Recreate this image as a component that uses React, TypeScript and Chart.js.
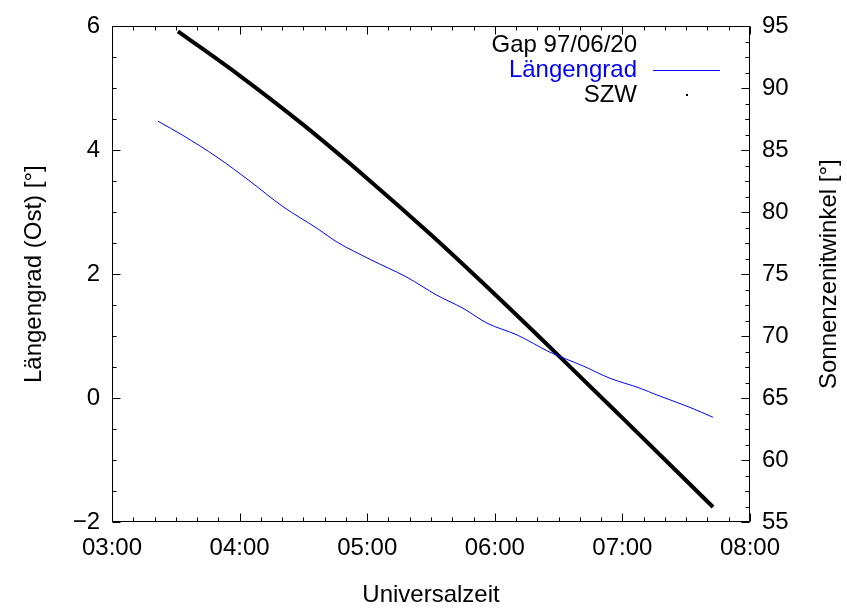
import { useEffect, useRef } from "react";
import { Chart, registerables } from "chart.js";

Chart.register(...registerables);

// Titles and legend texts
const legendTitle = "Gap 97/06/20";
const xTitle = "Universalzeit";
const yTitle = "Längengrad (Ost) [°]";
const y2Title = "Sonnenzenitwinkel [°]";
const lonLabel = "Längengrad";
const szwLabel = "SZW";

// Ground track longitude (time in hours UT, degrees east)
const lonTime = [3.36, 3.556, 3.823, 4.082, 4.34, 4.607, 4.763, 5.022, 5.312, 5.547, 5.751, 5.939, 6.174, 6.433, 6.691, 6.903, 7.138, 7.271, 7.53, 7.71];
const lonDeg = [4.47, 4.24, 3.89, 3.5, 3.09, 2.74, 2.52, 2.24, 1.95, 1.66, 1.45, 1.21, 1.02, 0.74, 0.52, 0.32, 0.16, 0.05, -0.15, -0.31];

// Solar zenith angle (time in hours UT, degrees)
const szwTime = [3.517, 4.0, 4.5, 5.0, 5.5, 6.0, 6.5, 7.0, 7.71];
const szwDeg = [94.6, 91.03, 87.05, 82.73, 78.18, 73.38, 68.43, 63.4, 56.21];

// Axis ranges and tick steps
const xRange = [3, 8];
const yRange = [-2, 6];
const y2Range = [55, 95];
const xStep = 1;
const xMinor = 1 / 6;
const yStep = 2;
const yMinor = 0.5;
const y2Step = 5;
const y2Minor = 1.25;

const FAMILY = "'Liberation Sans', Arial, Helvetica, sans-serif";
const FONT_SIZE = 24;
const BLUE = "#0000ff";

const fmtTime = (v: number) => String(Math.round(v)).padStart(2, "0") + ":00";
const fmtNum = (v: number) => (v < 0 ? "\u2212" + Math.abs(v) : String(v));

// Frame plus inward tick marks on all four sides (gnuplot style)
const framePlugin = {
  id: "frameTicks",
  afterDatasetsDraw(chart: any) {
    const { ctx, chartArea: a, scales } = chart;
    const L = Math.round(a.left) + 0.5;
    const R = Math.round(a.right) - 0.5;
    const T = Math.round(a.top) + 0.5;
    const B = Math.round(a.bottom) - 0.5;
    const major = 8;
    const minor = 4;
    ctx.save();
    ctx.strokeStyle = "#000";
    ctx.lineWidth = 1;
    ctx.beginPath();
    ctx.rect(L, T, R - L, B - T);

    const isMult = (v: number, step: number) => Math.abs(v / step - Math.round(v / step)) < 1e-6;

    // x ticks, bottom and mirrored at top
    const nx = Math.round((xRange[1] - xRange[0]) / xMinor);
    for (let i = 0; i <= nx; i++) {
      const v = xRange[0] + i * xMinor;
      const px = Math.round(scales.x.getPixelForValue(v)) + 0.5;
      const len = isMult(v - xRange[0], xStep) ? major : minor;
      ctx.moveTo(px, B);
      ctx.lineTo(px, B - len);
      ctx.moveTo(px, T);
      ctx.lineTo(px, T + len);
    }
    // left y ticks, mirrored on right
    const ny = Math.round((yRange[1] - yRange[0]) / yMinor);
    for (let i = 0; i <= ny; i++) {
      const v = yRange[0] + i * yMinor;
      const py = Math.round(scales.y.getPixelForValue(v)) + 0.5;
      const len = isMult(v, yStep) ? major : minor;
      ctx.moveTo(L, py);
      ctx.lineTo(L + len, py);
      ctx.moveTo(R, py);
      ctx.lineTo(R - len, py);
    }
    // right y2 ticks
    const ny2 = Math.round((y2Range[1] - y2Range[0]) / y2Minor);
    for (let i = 0; i <= ny2; i++) {
      const v = y2Range[0] + i * y2Minor;
      const py = Math.round(scales.y2.getPixelForValue(v)) + 0.5;
      const len = isMult(v, y2Step) ? major : minor;
      ctx.moveTo(R, py);
      ctx.lineTo(R - len, py);
    }
    ctx.stroke();

    // right axis title, reading bottom to top
    ctx.font = `${FONT_SIZE}px ${FAMILY}`;
    ctx.fillStyle = "#000";
    ctx.textAlign = "center";
    ctx.textBaseline = "middle";
    ctx.translate(chart.width - 18, (a.top + a.bottom) / 2);
    ctx.rotate(-Math.PI / 2);
    ctx.fillText(y2Title, 0, 0);
    ctx.restore();
  },
};

// Key in the upper right: text right-aligned, sample to its right
const keyPlugin = {
  id: "gnuKey",
  afterDatasetsDraw(chart: any) {
    const { ctx, chartArea: a } = chart;
    const textRight = a.right - 113;
    const sampleL = a.right - 97;
    const sampleR = a.right - 30;
    const row0 = a.top + 19;
    const rowH = 25;
    ctx.save();
    ctx.font = `${FONT_SIZE}px ${FAMILY}`;
    ctx.textAlign = "right";
    ctx.textBaseline = "middle";

    ctx.fillStyle = "#000";
    ctx.fillText(legendTitle, textRight, row0);

    const ds = chart.data.datasets;
    ds.forEach((d: any, i: number) => {
      const yy = row0 + rowH * (i + 1);
      ctx.fillStyle = d.keyTextColor;
      ctx.fillText(d.label, textRight, yy);
      if (d.keyStyle === "line") {
        ctx.strokeStyle = d.borderColor;
        ctx.lineWidth = 1;
        ctx.beginPath();
        ctx.moveTo(sampleL, Math.round(yy) + 0.5);
        ctx.lineTo(sampleR, Math.round(yy) + 0.5);
        ctx.stroke();
      } else {
        ctx.fillStyle = d.borderColor;
        const cx = Math.round((sampleL + sampleR) / 2);
        ctx.fillRect(cx - 1, Math.round(yy) - 1, 2, 2);
      }
    });
    ctx.restore();
  },
};

export default function App() {
  const canvasRef = useRef<HTMLCanvasElement | null>(null);

  useEffect(() => {
    if (!canvasRef.current) return;
    const font = { family: FAMILY, size: FONT_SIZE };
    const chart = new Chart(canvasRef.current, {
      type: "line",
      data: {
        datasets: [
          {
            label: lonLabel,
            data: lonTime.map((t, i) => ({ x: t, y: lonDeg[i] })),
            yAxisID: "y",
            borderColor: BLUE,
            borderWidth: 1,
            pointRadius: 0,
            cubicInterpolationMode: "monotone",
            keyStyle: "line",
            keyTextColor: BLUE,
          } as any,
          {
            label: szwLabel,
            data: szwTime.map((t, i) => ({ x: t, y: szwDeg[i] })),
            yAxisID: "y2",
            borderColor: "#000",
            borderWidth: 4,
            borderCapStyle: "butt",
            pointRadius: 0,
            cubicInterpolationMode: "monotone",
            keyStyle: "dot",
            keyTextColor: "#000",
          } as any,
        ],
      },
      options: {
        responsive: true,
        maintainAspectRatio: false,
        animation: false,
        layout: { padding: { top: 26, left: 0, right: 0, bottom: 0 } },
        plugins: {
          legend: { display: false },
          tooltip: { enabled: false },
        },
        scales: {
          x: {
            type: "linear",
            position: "bottom",
            min: xRange[0],
            max: xRange[1],
            grid: { display: false, drawTicks: false },
            border: { display: false },
            ticks: {
              stepSize: xStep,
              padding: 12,
              color: "#000",
              font,
              maxRotation: 0,
              callback: (v: any) => fmtTime(Number(v)),
            },
            title: { display: true, text: xTitle, color: "#000", font, padding: 0 },
            afterFit: (s: any) => {
              s.height = 88;
            },
          },
          y: {
            type: "linear",
            position: "left",
            min: yRange[0],
            max: yRange[1],
            grid: { display: false, drawTicks: false },
            border: { display: false },
            ticks: {
              stepSize: yStep,
              padding: 12,
              color: "#000",
              font,
              callback: (v: any) => fmtNum(Number(v)),
            },
            title: { display: true, text: yTitle, color: "#000", font, padding: { top: 20, bottom: 0 } },
            afterFit: (s: any) => {
              s.width = 112;
            },
          },
          y2: {
            type: "linear",
            position: "right",
            min: y2Range[0],
            max: y2Range[1],
            grid: { display: false, drawTicks: false },
            border: { display: false },
            ticks: {
              stepSize: y2Step,
              padding: 12,
              color: "#000",
              font,
              callback: (v: any) => fmtNum(Number(v)),
            },
            title: { display: false, text: y2Title },
            afterFit: (s: any) => {
              s.width = 97;
            },
          },
        },
      },
      plugins: [framePlugin, keyPlugin],
    });
    return () => chart.destroy();
  }, []);

  return (
    <div style={{ position: "fixed", left: 0, top: 0, width: 847, height: 610, background: "#fff" }}>
      <canvas ref={canvasRef} />
    </div>
  );
}
